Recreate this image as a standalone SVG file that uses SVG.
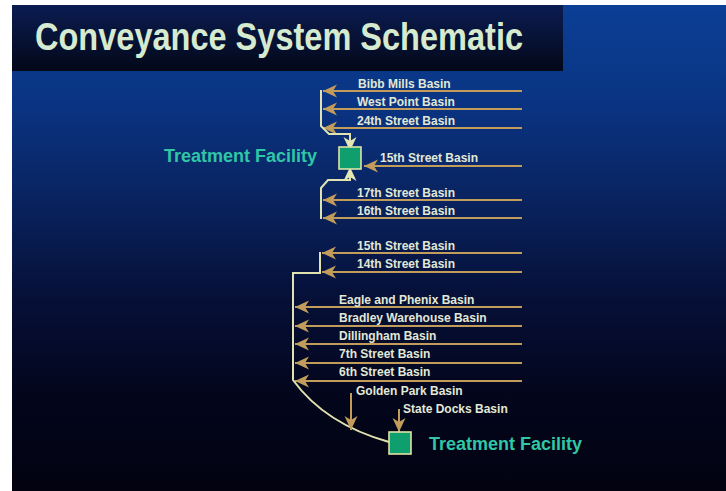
<svg xmlns="http://www.w3.org/2000/svg" width="726" height="491" viewBox="0 0 726 491">
<defs>
<linearGradient id="bg" x1="0" y1="0" x2="0" y2="1">
<stop offset="0" stop-color="#0b3f95"/>
<stop offset="0.2" stop-color="#0a3483"/>
<stop offset="0.4" stop-color="#09235f"/>
<stop offset="0.6" stop-color="#061038"/>
<stop offset="0.8" stop-color="#03061c"/>
<stop offset="1" stop-color="#020210"/>
</linearGradient>
<linearGradient id="ban" x1="0" y1="0" x2="0" y2="1">
<stop offset="0" stop-color="#0b1c52"/>
<stop offset="1" stop-color="#030818"/>
</linearGradient>
<marker id="ag" viewBox="-15 -8 16 16" refX="0" refY="0" markerWidth="16" markerHeight="16" markerUnits="userSpaceOnUse" orient="auto">
<path d="M0,0 L-14,-6.5 L-10,0 L-14,6.5 Z" fill="#c29c5a"/>
</marker>
<marker id="ap" viewBox="-15 -8 16 16" refX="0" refY="0" markerWidth="16" markerHeight="16" markerUnits="userSpaceOnUse" orient="auto">
<path d="M0,0 L-14,-6.5 L-10,0 L-14,6.5 Z" fill="#e4e6b4"/>
</marker>
</defs>
<style>
.lbl{font-family:"Liberation Sans",Arial,sans-serif;font-weight:bold;font-size:12px;fill:#e2e8d6}
.tf{font-family:"Liberation Sans",Arial,sans-serif;font-weight:bold;font-size:18px;fill:#30c6a6}
.title{font-family:"Liberation Sans",Arial,sans-serif;font-weight:bold;font-size:38px;fill:#d6ead0}
.g{stroke:#c29c5a;stroke-width:2;fill:none;marker-end:url(#ag)}
.p{stroke:#e0e2b0;stroke-width:2;fill:none}
.box{fill:#0f9f6e;stroke:#dde4a6;stroke-width:1.6}
</style>
<rect x="0" y="0" width="726" height="491" fill="#ffffff"/>
<rect x="12" y="5" width="714" height="486" fill="url(#bg)"/>
<rect x="12" y="5" width="551" height="66" fill="url(#ban)"/>
<text class="title" x="35" y="50" textLength="488" lengthAdjust="spacingAndGlyphs">Conveyance System Schematic</text>

<g id="connectors">
<line class="g" x1="522" y1="91" x2="323" y2="91"/>
<line class="g" x1="522" y1="109" x2="323" y2="109"/>
<line class="g" x1="522" y1="128" x2="323" y2="128"/>
<line class="g" x1="522" y1="166" x2="364" y2="166"/>
<line class="g" x1="522" y1="200" x2="323" y2="200"/>
<line class="g" x1="522" y1="218" x2="323" y2="218"/>
<path class="p" d="M321,90 V126 L329,134 H350 V140"/>
<path class="p" d="M350,140 V151" marker-end="url(#ap)"/>
<path class="p" d="M321,219 V188 L328,180 H350 V175"/>
<path class="p" d="M350,175 V167" marker-end="url(#ap)"/>
<line class="g" x1="522" y1="253" x2="322" y2="253"/>
<line class="g" x1="522" y1="272" x2="322" y2="272"/>
<line class="g" x1="522" y1="307" x2="295" y2="307"/>
<line class="g" x1="522" y1="326" x2="295" y2="326"/>
<line class="g" x1="522" y1="344" x2="295" y2="344"/>
<line class="g" x1="522" y1="363" x2="295" y2="363"/>
<line class="g" x1="522" y1="381" x2="295" y2="381"/>
<path class="p" d="M320,252 V273 H293 V380 Q325,424 389,442"/>
<line class="g" x1="351" y1="393" x2="351" y2="430"/>
<line class="g" x1="399" y1="409" x2="399" y2="432"/>
</g>

<g id="tf-upper">
<rect class="box" x="339" y="147" width="22" height="22"/>
<text class="tf" x="164" y="162">Treatment Facility</text>
</g>
<g id="tf-lower">
<rect class="box" x="389" y="432" width="22" height="22"/>
<text class="tf" x="429" y="450">Treatment Facility</text>
</g>
<g id="bibb-mills"><text class="lbl" x="358" y="88">Bibb Mills Basin</text></g>
<g id="west-point"><text class="lbl" x="357" y="106">West Point Basin</text></g>
<g id="st24"><text class="lbl" x="357" y="125">24th Street Basin</text></g>
<g id="st15a"><text class="lbl" x="380" y="162">15th Street Basin</text></g>
<g id="st17"><text class="lbl" x="357" y="197">17th Street Basin</text></g>
<g id="st16"><text class="lbl" x="357" y="215">16th Street Basin</text></g>
<g id="st15"><text class="lbl" x="357" y="250">15th Street Basin</text></g>
<g id="st14"><text class="lbl" x="357" y="268">14th Street Basin</text></g>
<g id="eagle-phenix"><text class="lbl" x="339" y="304">Eagle and Phenix Basin</text></g>
<g id="bradley"><text class="lbl" x="339" y="322">Bradley Warehouse Basin</text></g>
<g id="dillingham"><text class="lbl" x="339" y="340">Dillingham Basin</text></g>
<g id="st7"><text class="lbl" x="339" y="358">7th Street Basin</text></g>
<g id="st6"><text class="lbl" x="339" y="376">6th Street Basin</text></g>
<g id="golden-park"><text class="lbl" x="356" y="395">Golden Park Basin</text></g>
<g id="state-docks"><text class="lbl" x="403" y="413">State Docks Basin</text></g>
</svg>
